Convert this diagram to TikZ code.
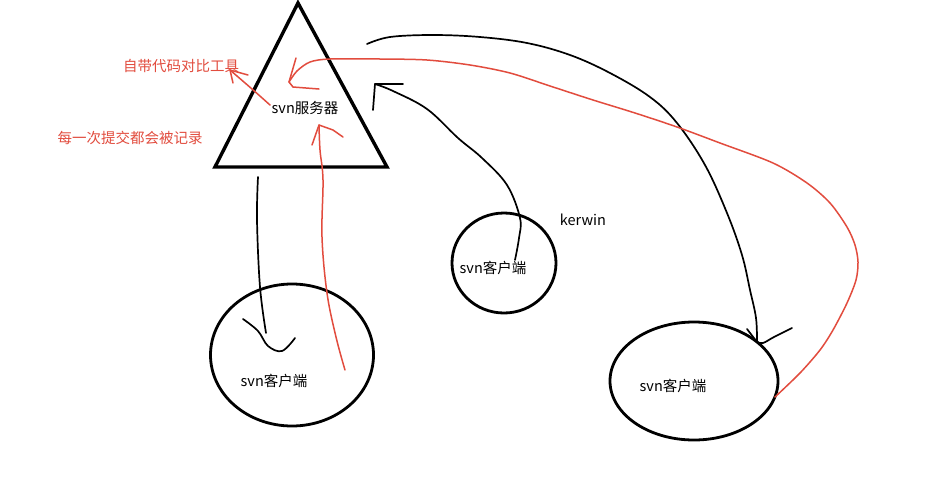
\documentclass[tikz,border=0pt]{standalone}
\usepackage{fontspec}
\setmainfont{Noto Sans CJK SC}
\usetikzlibrary{shapes.geometric}
\definecolor{penred}{RGB}{226,76,62}

\begin{document}
\begin{tikzpicture}[x=1pt,y=-1pt,
    blackpen/.style={line width=1.7pt,line cap=round,line join=round},
    redpen/.style={penred,line width=1.5pt,line cap=round,line join=round},
    txt/.style={font=\fontsize{14.5}{16}\selectfont,inner sep=1pt}]
            \useasboundingbox[fill=white] (0,0) rectangle (934,480);
            % server triangle
            \coordinate (top) at (298,3);
            \coordinate (bl) at (215,167);
            \coordinate (br) at (387,167);
            \draw[line width=3.4pt,line join=miter] (top) -- (bl) -- (br) -- cycle;
            \node[txt] (server) at (305,108) {svn服务器};
            % clients
            \foreach \nm/\x/\y/\w/\h in {cA/292/355/163/142, cB/504/263/104/100, cC/694/381/168/118}
                \node[draw,ellipse,line width=2.8pt,minimum width=\w pt,minimum height=\h pt,inner sep=0pt] (\nm) at (\x,\y) {};
            \foreach \nm/\x/\y in {labA/274/381, labB/493/268, labC/673/386}
                \node[txt] (\nm) at (\x,\y) {svn客户端};
            \node[txt] (user) at (583,220) {kerwin};
            \node[txt,penred] (diff) at (181,66) {自带代码对比工具};
            \node[txt,penred] (log) at (130,138) {每一次提交都会被记录};
            % black strokes
            \coordinate (upA) at (258,177);
            \coordinate (tipA) at (268,346);
            \draw[blackpen] plot[smooth,tension=0.6] coordinates {(upA) (257,220) (260,287) (266,333)};
            \draw[blackpen] plot[smooth,tension=0.6] coordinates {(243,319) (258,331) (tipA) (282,351) (295,338)};
            \coordinate (upB) at (515,260);
            \coordinate (tipB) at (375,84);
            \draw[blackpen] plot[smooth,tension=0.6] coordinates {(upB) (519,238) (520,218) (507,185) (482,158) (458,138) (427,109) (393,91) (tipB)};
            \draw[blackpen] (403,84) -- (tipB) -- (373,110);
            \coordinate (fromS) at (367,44);
            \coordinate (tipC) at (757,342);
            \draw[blackpen] plot[smooth,tension=0.6] coordinates {(fromS) (390,37) (433,35) (480,37) (527,43) (570,55) (610,73) (650,97) (677,123) (705,165) (727,213) (742,255) (750,290) (756,318) (tipC)};
            \draw[blackpen] (747,329) -- (tipC);
            \draw[blackpen] plot[smooth,tension=0.6] coordinates {(tipC) (763,343) (774,337) (792,328)};
            % red strokes
            \coordinate (upR) at (345,370);
            \coordinate (tipR) at (319,125);
            \draw[redpen] plot[smooth,tension=0.6] coordinates {(upR) (336,337) (327,293) (322,237) (323,180) (320,150) (tipR)};
            \draw[redpen] (312,145) -- (tipR) -- (333,130) -- (343,137);
            \coordinate (fromD) at (270,105);
            \coordinate (tipD) at (230,70);
            \draw[redpen] plot[smooth,tension=0.6] coordinates {(fromD) (252,89) (tipD)};
            \draw[redpen] (248,75) -- (tipD) -- (233,83);
            \coordinate (fromL) at (775,397);
            \coordinate (tipL) at (289,82);
            \draw[redpen] plot[smooth,tension=0.5] coordinates {(fromL) (800,373) (820,350) (833,330) (847,303) (856,280) (858,262) (855,245) (847,227) (830,203) (807,183) (773,163) (720,143) (677,127) (635,113) (593,100) (550,86) (510,73) (470,65) (427,60) (380,59) (330,59) (310,62) (297,71) (tipL)};
            \draw[redpen] (296,58) -- (tipL) -- (293,87) -- (319,89);
\end{tikzpicture}
\end{document}
